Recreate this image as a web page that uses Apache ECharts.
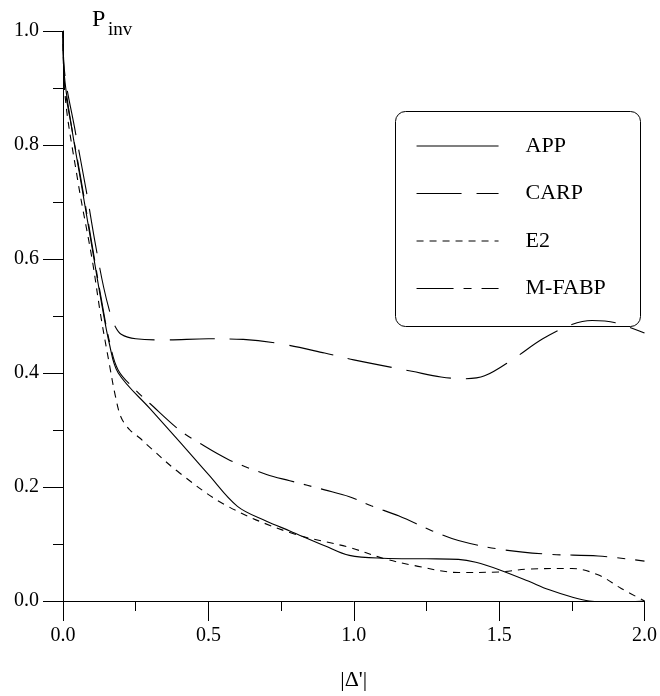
<!DOCTYPE html>
<html>
<head>
<meta charset="utf-8">
<script src="https://cdn.jsdelivr.net/npm/echarts@6/dist/echarts.min.js"></script>
<style>html,body{margin:0;padding:0;background:#fff}#c{width:660px;height:696px}</style>
</head>
<body>
<div id="c"></div>
<script>
const seriesNames = ['APP', 'CARP', 'E2', 'M-FABP'];
const xTicks = [0.0, 0.5, 1.0, 1.5, 2.0];
const yTicks = [0.0, 0.2, 0.4, 0.6, 0.8, 1.0];

const appX = [0, 0.005, 0.03, 0.06, 0.1, 0.13, 0.16, 0.19, 0.3, 0.4, 0.5, 0.6, 0.7, 0.78, 0.9, 0.985, 1.1, 1.25, 1.36, 1.42, 1.5, 1.6, 1.67, 1.75, 1.81, 1.9, 2.0];
const appY = [1.0, 0.92, 0.83, 0.74, 0.62, 0.53, 0.45, 0.40, 0.337, 0.28, 0.222, 0.166, 0.14, 0.123, 0.097, 0.08, 0.075, 0.074, 0.073, 0.068, 0.055, 0.035, 0.02, 0.007, 0.0, -0.002, 0.0];

const carpX = [0, 0.005, 0.04, 0.08, 0.11, 0.14, 0.165, 0.178, 0.2, 0.25, 0.35, 0.5, 0.62, 0.74, 0.9, 1.0, 1.2, 1.3, 1.38, 1.45, 1.55, 1.65, 1.75, 1.82, 1.9, 2.0];
const carpY = [1.0, 0.93, 0.83, 0.72, 0.63, 0.55, 0.50, 0.483, 0.468, 0.46, 0.458, 0.46, 0.459, 0.452, 0.435, 0.423, 0.403, 0.393, 0.39, 0.395, 0.425, 0.46, 0.485, 0.492, 0.488, 0.47];

const e2X = [0, 0.005, 0.05, 0.1, 0.13, 0.16, 0.18, 0.2, 0.23, 0.264, 0.3, 0.4, 0.56, 0.78, 0.985, 1.1, 1.21, 1.36, 1.5, 1.6, 1.75, 1.84, 1.92, 2.0];
const e2Y = [1.0, 0.9, 0.74, 0.60, 0.50, 0.414, 0.36, 0.322, 0.30, 0.286, 0.269, 0.225, 0.168, 0.12, 0.094, 0.075, 0.062, 0.05, 0.051, 0.056, 0.057, 0.046, 0.022, 0.0];

const mfabpX = [0, 0.005, 0.03, 0.06, 0.1, 0.13, 0.16, 0.19, 0.25, 0.3, 0.4, 0.46, 0.57, 0.7, 0.78, 0.9, 0.985, 1.06, 1.156, 1.27, 1.36, 1.5, 1.67, 1.84, 2.0];
const mfabpY = [1.0, 0.91, 0.83, 0.745, 0.625, 0.535, 0.455, 0.405, 0.37, 0.346, 0.30, 0.28, 0.248, 0.222, 0.211, 0.195, 0.183, 0.167, 0.149, 0.123, 0.106, 0.091, 0.082, 0.079, 0.07];

function pairs(xs, ys) { return xs.map((x, i) => [x, ys[i]]); }

const FONT = 'Liberation Serif';
const chart = echarts.init(document.getElementById('c'), null, {renderer: 'canvas'});

function mkSeries(name, xs, ys, dash) {
  return {
    name: name, type: 'line', data: pairs(xs, ys), symbol: 'none', smooth: 0.35,
    lineStyle: {color: '#000', width: 1.1, type: dash},
    itemStyle: {color: '#000'}
  };
}

chart.setOption({
  animation: false,
  backgroundColor: '#fff',
  grid: {left: 63, right: 14, top: 31, bottom: 81, containLabel: false},
  xAxis: {
    type: 'value', min: 0, max: 2, interval: 0.5,
    name: '|Δ\'|', nameLocation: 'middle', nameGap: 68,
    nameTextStyle: {fontFamily: FONT, fontSize: 22, color: '#000'},
    axisLine: {show: true, onZero: false, lineStyle: {color: '#000', width: 1}},
    axisTick: {show: true, inside: false, length: 20, lineStyle: {color: '#000', width: 1}},
    minorTick: {show: true, splitNumber: 2, length: 10, lineStyle: {color: '#000', width: 1}},
    splitLine: {show: false},
    axisLabel: {fontFamily: FONT, fontSize: 20, color: '#000', margin: 25,
      formatter: v => xTicks.find(t => Math.abs(t - v) < 1e-9).toFixed(1)}
  },
  yAxis: {
    type: 'value', min: 0, max: 1, interval: 0.2,
    axisLine: {show: true, onZero: false, lineStyle: {color: '#000', width: 1}},
    axisTick: {show: true, inside: false, length: 20, lineStyle: {color: '#000', width: 1}},
    minorTick: {show: true, splitNumber: 2, length: 10, lineStyle: {color: '#000', width: 1}},
    splitLine: {show: false},
    axisLabel: {fontFamily: FONT, fontSize: 20, color: '#000', margin: 24,
      formatter: v => yTicks.find(t => Math.abs(t - v) < 1e-9).toFixed(1)}
  },
  legend: {
    orient: 'vertical', left: 416, top: 135, padding: 0, itemGap: 25.5,
    itemWidth: 82, itemHeight: 14,
    data: seriesNames,
    itemStyle: {opacity: 0},
    textStyle: {fontFamily: FONT, fontSize: 22, color: '#000', padding: [0, 0, 0, 22]},
    lineStyle: {width: 1.1}
  },
  graphic: [
    {type: 'rect', left: 393, top: 109, shape: {width: 245, height: 215, r: 10},
     style: {fill: 'none', stroke: '#000', lineWidth: 1}, z: 0},
    {type: 'text', left: 92, top: 8,
     style: {text: 'P', fontFamily: FONT, fontSize: 24, fill: '#000'}},
    {type: 'text', left: 108, top: 21,
     style: {text: 'inv', fontFamily: FONT, fontSize: 19, fill: '#000'}}
  ],
  series: [
    mkSeries('APP', appX, appY, 'solid'),
    mkSeries('CARP', carpX, carpY, [45, 15]),
    mkSeries('E2', e2X, e2Y, [7, 6]),
    mkSeries('M-FABP', mfabpX, mfabpY, [37, 10, 8, 10])
  ]
});
</script>
</body>
</html>
